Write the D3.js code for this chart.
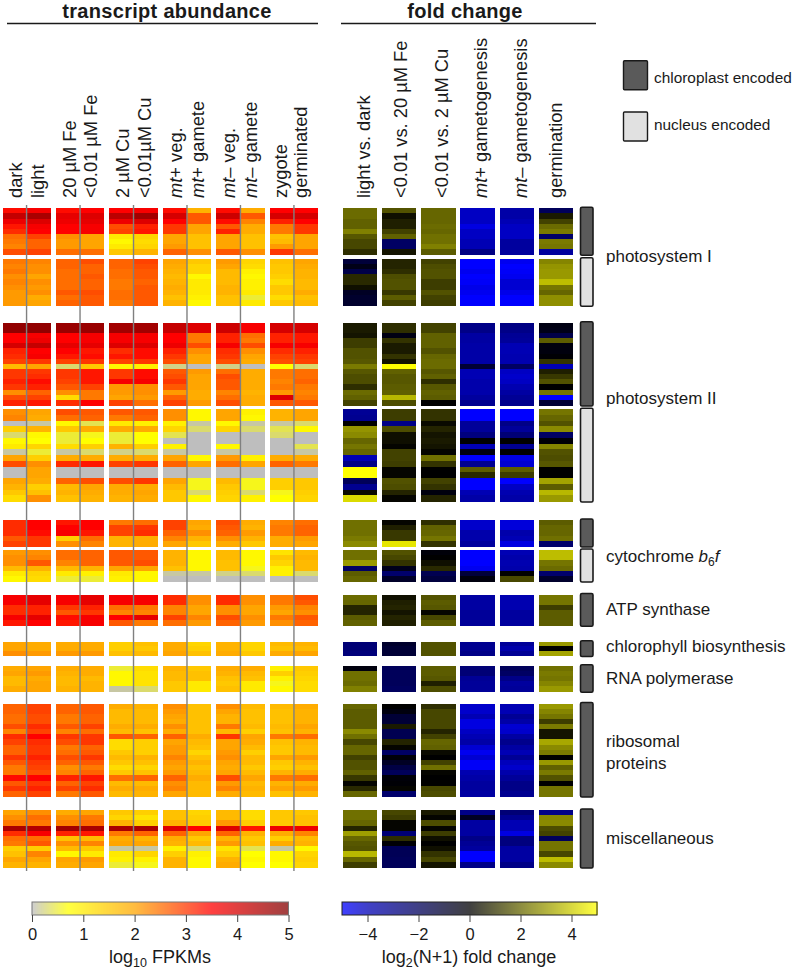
<!DOCTYPE html>
<html>
<head>
<meta charset="utf-8">
<script src="https://cdn.jsdelivr.net/npm/d3@7"></script>
<style>
body { margin: 0; background: #fff; }
text { font-family: "Liberation Sans", Arial, sans-serif; fill: #1a1a1a; }
</style>
</head>
<body>
<div id="chart"></div>
<script>
// column names
var abundCols = ['dark','light','20 µM Fe','<0.01 µM Fe','2 µM Cu','<0.01µM Cu','mt+ veg.','mt+ gamete','mt– veg.','mt– gamete','zygote','germinated'];
var foldCols = ['light vs. dark','<0.01 vs. 20 µM Fe','<0.01 vs. 2 µM Cu','mt+ gametogenesis','mt– gametogenesis','germination'];

// every block below is one list per column, top row first
// log10 FPKM, 0 = not detected (grey)
var abundPsiICp = [
 [3.4,4.2,3.7,3.3,3.1,2.5,2.4,2.3,2.8],[3.6,4.5,3.9,3.6,3.5,2.9,2.6,2.6,2.9],
 [3.4,3.8,3.7,3.5,3.5,2.2,2.1,2.1,2.5],[3.5,3.9,3.8,3.6,3.6,2.0,2.0,2.0,2.5],
 [3.5,4.3,3.7,2.8,2.9,1.0,0.8,1.0,1.5],[3.6,4.6,3.9,3.2,3.3,1.3,1.2,1.3,1.8],
 [3.4,4.0,3.5,3.0,3.0,2.0,2.0,2.1,2.6],[1.8,2.7,2.7,2.0,2.0,1.6,1.6,1.6,2.2],
 [3.4,4.1,3.4,2.7,3.2,2.0,2.0,2.0,2.7],[1.9,2.7,2.3,1.9,1.9,1.6,1.6,1.6,2.2],
 [3.5,4.0,3.2,2.4,2.4,1.6,1.7,2.1,3.0],[3.5,4.0,3.5,3.0,3.0,2.0,2.0,2.0,2.5]];
var abundPsiINuc = [
 [2.4,2.3,2.4,2.2,2.3,2.2,2.1,2.1,2.1],[2.3,2.2,2.2,2.0,2.2,2.1,2.2,1.9,2.0],
 [2.6,2.6,2.5,2.5,2.5,2.5,2.7,2.5,2.6],[2.8,2.6,2.6,2.7,2.6,2.6,2.8,2.7,2.7],
 [2.6,2.6,2.5,2.5,2.4,2.4,2.5,2.5,2.4],[2.9,2.8,2.7,2.7,2.6,2.7,2.7,2.7,2.7],
 [2.0,1.9,1.8,1.7,1.8,1.9,1.8,1.6,1.8],[1.5,1.3,1.3,0.8,1.0,1.0,1.0,0.9,0.8],
 [2.1,2.0,1.7,1.7,1.7,1.8,1.8,1.6,1.6],[1.3,1.2,0.9,0.8,0.9,0.9,1.0,0.5,1.0],
 [1.6,1.5,1.5,1.4,1.2,1.5,1.5,1.2,1.5],[2.0,1.9,1.8,1.8,1.7,1.7,1.9,1.6,1.7]];
var abundPsiIICp = [
 [4.8,4.8,3.5,3.5,4.0,3.2,3.1,2.9,1.7,3.0,3.0,3.2,3.0,2.2,2.8,3.2],
 [4.8,4.8,3.6,3.7,4.2,3.5,3.6,3.0,2.0,3.0,3.1,3.4,3.2,2.6,2.9,3.3],
 [4.7,4.7,3.5,3.5,3.8,3.5,3.3,2.9,0.3,3.0,3.0,2.9,2.7,2.2,1.2,3.1],
 [4.7,4.7,3.6,3.6,3.8,3.3,3.4,3.0,1.5,3.3,3.3,3.3,2.9,2.4,2.4,3.5],
 [4.6,4.6,3.6,3.6,3.9,3.1,3.3,2.9,0.8,3.0,3.0,3.6,2.1,2.1,2.0,2.9],
 [4.6,4.6,3.6,3.6,3.9,3.4,3.4,3.0,0.9,3.4,3.4,3.6,2.2,2.2,2.1,2.5],
 [4.2,4.2,3.5,3.5,3.7,3.2,3.0,2.8,0.2,2.7,2.8,3.0,2.7,2.1,2.6,2.9],
 [3.9,3.9,2.4,2.4,2.8,2.2,2.0,2.0,0.0,2.1,2.0,2.0,2.0,1.9,1.9,2.1],
 [4.1,4.1,3.2,3.2,3.6,3.1,3.0,2.8,0.2,2.5,2.8,2.7,2.7,2.3,2.5,2.8],
 [3.6,3.6,2.5,2.4,2.8,2.2,2.0,1.9,0.0,1.9,1.9,1.9,1.9,1.8,1.9,1.9],
 [4.0,4.0,3.2,3.2,3.6,3.1,2.9,2.8,0.7,2.4,2.4,2.3,2.4,2.1,3.9,2.7],
 [4.0,4.0,3.3,3.3,3.6,3.2,3.0,2.9,0.3,2.5,2.5,2.6,2.4,2.3,2.4,2.7]];
var abundPsiIINuc = [
 [2.2,2.3,0.0,1.4,0.3,0.8,1.0,0.1,2.0,2.8,0.0,0.0,2.0,1.8,1.5,1.2],
 [2.0,1.9,0.1,1.8,0.8,0.7,1.3,0.5,1.4,2.2,2.0,2.0,1.9,1.4,1.6,2.2],
 [2.8,2.5,0.8,1.5,0.5,0.5,1.2,0.1,1.9,3.1,0.0,0.0,2.6,1.7,1.8,1.6],
 [2.7,2.6,0.4,1.9,0.6,0.7,1.4,0.3,1.9,3.3,0.0,0.0,2.8,2.0,1.9,1.8],
 [2.7,2.4,1.0,1.9,0.5,0.5,1.8,0.2,1.9,2.9,0.0,0.0,2.8,1.9,1.9,1.8],
 [2.7,2.6,0.9,1.9,0.7,0.7,1.4,0.3,1.9,3.0,0.0,0.0,3.0,1.9,2.0,1.9],
 [2.2,2.2,0.9,1.3,0.4,0.0,0.9,0.1,2.0,2.6,0.0,0.0,2.0,1.7,1.5,1.5],
 [0.8,0.8,0.1,0.3,0.0,0.0,0.0,0.0,0.8,2.0,0.0,0.0,0.6,0.6,0.3,0.8],
 [2.0,2.0,0.8,1.3,0.0,0.0,0.8,0.1,2.1,2.5,0.0,0.0,1.7,1.5,1.4,1.3],
 [0.9,0.8,0.1,0.3,0.0,0.0,0.0,0.0,0.9,2.0,0.0,0.0,0.6,0.6,0.3,0.9],
 [1.8,1.8,0.1,0.4,0.3,0.0,0.0,0.0,1.9,2.6,0.0,0.0,1.4,1.4,0.6,0.7],
 [2.0,2.0,0.3,0.8,0.0,0.0,0.4,0.1,1.9,2.4,0.0,0.0,1.5,1.5,1.4,1.3]];
var abundCytCp = [
 [3.1,3.1,3.1,2.7,2.9],[3.5,3.5,3.4,3.0,3.0],[3.3,3.5,3.6,1.4,2.2],[3.5,3.5,3.3,2.5,2.3],
 [2.4,2.9,2.9,1.8,1.8],[2.5,3.0,3.1,1.9,1.9],[2.9,2.9,2.6,2.3,2.0],[2.0,1.9,2.2,1.8,1.5],
 [2.8,2.7,2.6,2.2,1.9],[1.9,1.8,2.1,1.8,1.5],[2.3,2.4,2.4,1.9,1.9],[2.5,2.6,2.6,2.1,2.0]];
var abundCytNuc = [
 [2.1,2.2,2.2,1.7,1.0,0.8],[2.2,2.3,2.7,1.8,1.3,1.2],[2.5,2.5,2.3,1.7,1.0,0.5],[2.6,2.6,2.6,1.8,0.9,0.5],
 [2.7,2.7,2.7,2.0,1.0,0.9],[2.7,2.7,2.8,2.0,0.8,0.8],[1.8,1.8,1.8,1.6,0.1,0.0],[0.8,0.8,0.8,0.8,0.1,0.0],
 [1.7,1.7,1.6,1.6,0.2,0.0],[0.8,0.8,0.8,0.6,0.3,0.0],[1.1,1.5,1.3,0.9,0.9,0.0],[1.7,1.8,1.7,1.7,0.3,0.0]];
var abundAtp = [
 [3.6,3.6,3.1,3.1,3.6,3.3],[3.8,3.8,3.2,3.2,3.8,3.5],[3.6,3.6,3.0,2.7,3.4,3.3],[3.8,3.8,3.2,3.0,3.6,3.6],
 [3.6,3.6,2.5,2.3,3.5,2.7],[3.6,3.6,2.4,2.3,3.8,2.4],[3.1,3.1,2.3,2.3,2.9,2.5],[2.2,2.2,2.0,2.0,2.3,2.1],
 [3.1,3.1,2.2,2.2,2.8,2.6],[2.2,2.2,2.0,2.0,2.2,2.1],[2.4,2.4,2.1,2.0,2.4,2.2],[2.8,2.7,2.3,2.2,2.7,2.6]];
var abundChl = [
 [2.0,2.0,2.2],[1.9,1.9,2.1],[1.9,1.9,2.1],[1.9,1.9,2.1],[1.4,1.4,1.6],[1.6,1.5,1.7],
 [1.9,1.9,2.0],[1.3,1.4,1.6],[1.8,1.8,1.9],[1.3,1.3,1.5],[1.7,1.6,1.9],[1.8,1.7,2.0]];
var abundRna = [
 [1.9,2.0,1.7,1.7,1.9],[2.0,2.1,1.9,2.0,2.0],[1.9,1.8,1.7,1.7,1.8],[1.9,1.9,1.7,1.8,1.8],
 [0.5,0.8,0.8,0.8,0.1],[1.2,1.1,1.1,1.1,0.3],[1.8,1.7,1.7,1.5,1.5],[1.5,1.6,1.6,1.0,1.0],
 [1.9,1.8,1.6,1.5,1.6],[1.9,1.7,1.6,1.0,1.0],[0.9,1.4,0.9,0.6,0.8],[1.5,1.4,1.3,1.2,1.2]];
var abundRibo = [
 [2.6,2.6,2.5,2.5,2.8,2.3,3.1,2.9,2.6,2.6,3.0,2.7,2.4,2.4,3.4,2.7,3.0,2.6],
 [2.9,2.9,2.8,2.8,3.1,2.9,3.5,3.1,3.0,3.0,3.2,3.0,2.9,2.8,3.5,3.0,3.2,2.9],
 [2.6,2.6,2.4,2.4,2.7,2.3,3.0,2.8,2.4,2.5,2.8,2.6,2.2,2.3,3.2,2.6,2.9,2.4],
 [2.7,2.7,2.6,2.6,2.9,2.5,3.0,3.0,2.6,2.7,3.0,2.7,2.4,2.6,3.3,2.9,3.1,2.7],
 [1.9,1.7,1.7,1.7,1.9,1.7,2.7,1.2,1.2,1.5,1.7,1.5,1.2,1.5,2.5,1.7,1.9,1.7],
 [1.8,1.7,1.7,1.7,1.9,1.6,2.6,1.4,1.4,1.4,1.8,1.6,1.3,1.6,2.6,1.7,1.9,1.8],
 [2.2,2.1,2.0,1.9,2.2,1.9,2.6,2.0,2.1,2.1,2.3,2.1,2.0,2.1,2.6,2.2,2.3,2.0],
 [1.6,1.6,1.6,1.6,1.6,1.6,1.9,1.7,1.6,1.3,1.6,1.8,1.6,1.7,1.9,1.7,1.7,1.7],
 [2.2,2.0,1.8,1.8,2.4,1.7,3.0,2.0,2.0,2.1,2.2,2.0,1.9,2.0,2.8,2.1,2.3,1.9],
 [1.7,1.6,1.6,1.6,1.7,1.4,2.0,1.9,1.7,1.4,1.7,1.7,1.5,1.7,2.0,1.7,1.8,1.7],
 [1.7,1.6,1.6,1.6,1.7,1.6,2.4,1.6,1.5,1.5,2.0,1.5,1.4,1.8,2.4,1.8,2.0,1.6],
 [1.9,1.8,1.8,1.8,2.0,1.8,2.5,1.8,1.7,1.7,2.1,1.8,1.6,1.9,2.5,1.9,2.1,1.8]];
var abundMisc = [
 [2.0,2.2,2.4,4.5,3.1,2.5,2.4,1.4,1.6,2.0,1.8],[2.2,2.5,2.4,4.4,3.6,2.5,2.7,1.4,2.3,2.0,1.8],
 [1.9,2.2,2.3,4.6,3.2,1.6,2.2,1.7,0.8,2.0,1.9],[2.0,2.4,2.5,4.5,3.3,1.7,2.3,1.5,1.0,2.1,2.0],
 [1.5,1.3,1.8,4.5,2.4,1.9,2.0,0.1,1.0,0.9,0.5],[1.4,1.1,1.4,4.5,2.6,1.8,2.0,0.1,1.3,0.9,0.6],
 [1.6,1.6,1.8,3.9,2.6,1.9,1.8,0.9,1.4,1.8,1.8],[1.3,1.4,1.5,3.5,2.0,1.5,1.7,0.3,0.9,0.8,0.8],
 [1.7,1.7,2.1,3.9,2.6,1.8,2.1,1.1,1.4,1.8,1.9],[1.2,1.2,1.4,3.3,1.8,1.5,1.6,0.4,0.7,0.8,0.7],
 [1.5,1.5,1.5,3.7,1.9,1.4,1.9,0.1,0.8,0.8,0.7],[1.5,1.6,1.6,3.7,2.3,1.7,1.8,0.8,1.3,1.4,1.3]];

// log2(N+1) fold change
var foldPsiICp = [
 [2.1,2.1,1.9,1.9,2.5,1.7,1.4,1.4,0.9],[1.6,0.3,0.6,0.6,1.3,1.9,-2.2,-2.2,0.4],
 [2.0,2.0,2.0,2.1,2.0,2.2,2.2,2.5,1.8],[-4.2,-4.2,-4.2,-4.6,-4.2,-4.2,-4.0,-4.0,-2.9],
 [-3.7,-3.7,-4.0,-4.2,-4.2,-4.2,-3.5,-3.5,-3.5],[-2.0,0.5,1.3,2.1,2.4,-2.3,2.4,2.3,-3.5]];
var foldPsiINuc = [
 [-1.3,-0.5,-1.6,0.8,0.8,0.3,-0.8,-1.0,-1.0],[0.7,0.7,0.9,1.5,1.6,1.6,1.1,1.8,1.3],
 [1.3,1.5,1.6,1.6,1.2,1.2,1.6,1.3,1.2],[-5,-5,-4.8,-5,-4.9,-4.7,-4.8,-5,-5],
 [-4.8,-5,-4.9,-4.8,-4.4,-4.4,-4.7,-5,-5],[2.6,2.9,3.0,3.0,3.7,2.3,2.0,2.8,2.8]];
var foldPsiIICp = [
 [0.5,0.5,0.4,1.2,1.2,1.6,1.6,1.7,2.4,1.7,1.5,1.5,0.9,2.1,1.9,1.3],
 [0.9,0.9,-0.4,1.0,0.5,0.5,1.0,0.4,5.0,1.9,1.7,1.7,1.8,1.9,3.6,1.5],
 [1.3,1.3,1.9,1.9,1.9,1.6,2.0,2.1,2.1,1.7,1.9,0.9,1.7,1.9,1.8,0.0],
 [-3.0,-3.0,-3.6,-3.6,-3.7,-3.7,-3.7,-3.7,-1.2,-4.0,-4.0,-3.8,-3.8,-3.8,-3.5,-3.2],
 [-2.9,-3.0,-3.3,-3.4,-4.0,-4.0,-3.9,-3.9,-2.2,-4.2,-4.3,-4.2,-3.9,-3.6,-3.3,-3.1],
 [-0.4,-0.5,-1.6,1.8,-0.3,-0.3,-0.1,1.0,-4.0,0.6,1.1,1.6,0.0,2.3,-5,-1.2]];
var foldPsiIINuc = [
 [-3.3,-3.2,0.0,2.9,2.7,2.0,2.3,2.0,-4.0,-3.0,5,5,-2.0,-3.2,0.2,4.3],
 [1.2,1.2,-3.0,1.5,0.3,0.3,0.1,1.3,1.3,1.2,0.1,0.1,1.6,1.5,0.7,0.1],
 [1.0,1.0,0.2,0.7,0.4,0.5,0.4,0.1,2.2,1.0,0.0,0.0,1.3,1.0,-0.3,0.7],
 [-5,-5,-3.4,-3.4,-2.8,0.0,-4.0,-0.4,-5,-3.2,1.8,0.8,-5,-5,-4.0,-3.7],
 [-5,-5,-3.0,-3.4,-2.6,0.0,-3.2,0.0,-4.6,-4.4,1.8,1.2,-5,-4.2,-3.9,-3.7],
 [2.3,2.0,1.6,2.7,-2.2,-0.1,2.6,1.6,1.5,1.7,0.0,0.0,3.2,1.8,3.6,3.0]];
var foldCytCp = [
 [2.2,2.2,2.2,2.4,2.7],[0.1,0.6,1.1,1.1,4.5],[0.9,1.9,2.0,2.3,1.0],
 [-4.3,-4.3,-3.8,-3.8,-3.5],[-4.5,-4.5,-3.8,-4.0,-4.6],[1.8,2.0,2.0,2.2,-2.4]];
var foldCytNuc = [
 [2.2,2.2,3.0,-2.2,1.8,2.0],[1.6,1.4,1.0,-0.6,-2.4,-0.9],[-0.2,0.0,0.3,0.8,-1.8,-1.4],
 [-5,-5,-5,-4.8,-1.3,-0.3],[-4.0,-3.8,-3.9,-3.8,0.0,1.4],[3.7,3.7,2.3,2.1,-2.4,-1.0]];
var foldAtp = [
 [2.1,2.0,0.7,0.7,1.8,1.9],[0.3,0.6,0.7,0.4,0.7,0.6],[1.6,1.8,1.7,0.1,1.4,1.8],
 [-3.6,-3.6,-3.6,-3.4,-3.4,-3.4],[-3.9,-3.9,-3.9,-3.5,-3.5,-3.5],[2.3,2.3,1.2,1.8,1.8,1.8]];
var foldChl = [[-2.6,-2.6,-2.7],[-1.0,-1.2,-1.2],[1.6,1.6,1.6],[-3.2,-3.2,-3.0],[-3.4,-3.8,-3.3],[3.0,0.0,3.2]];
var foldRna = [
 [-0.3,2.2,2.2,2.1,2.5],[-2.0,-2.0,-2.0,-2.0,-2.1],[1.8,1.8,1.7,0.6,1.5],
 [-2.6,-2.6,-3.3,-3.4,-3.4],[-2.0,-2.2,-3.0,-3.5,-3.4],[2.2,2.4,2.3,2.6,3.0]];
var foldRibo = [
 [2.0,1.8,1.8,1.8,1.8,2.7,2.2,1.4,2.0,2.0,1.3,1.6,1.6,1.9,1.1,0.1,0.8,2.0],
 [0.0,-0.3,-1.2,-1.2,0.5,-1.8,-1.8,0.7,0.1,-2.2,-0.2,-0.8,-1.5,-2.0,-0.2,-0.1,0.1,-2.4],
 [0.9,1.4,1.4,1.4,1.4,0.7,1.3,2.0,1.9,0.2,0.0,1.3,2.2,0.1,0.0,0.0,1.4,1.5],
 [-4.3,-4.3,-4.0,-4.6,-4.6,-4.2,-4.0,-3.7,-4.4,-4.8,-4.4,-4.9,-4.9,-3.9,-3.7,-3.5,-3.5,-3.6],
 [-4.0,-4.0,-3.3,-3.7,-4.4,-4.3,-3.6,-3.1,-3.6,-4.0,-3.3,-4.1,-4.3,-3.8,-3.4,-3.0,-3.0,-3.2],
 [3.0,2.6,2.3,1.2,2.4,0.4,0.4,3.3,2.7,2.4,0.0,3.0,1.9,2.4,1.6,0.0,2.3,2.3]];
var foldMisc = [
 [2.2,2.2,2.0,0.7,3.1,2.0,1.7,1.6,3.6,2.0,1.2],
 [1.4,1.2,0.1,0.1,-2.6,0.9,-0.1,-1.9,-1.9,-2.0,-2.0],
 [0.5,0.1,1.5,0.1,1.2,0.3,0.0,0.3,1.0,1.4,0.4],
 [-3.0,-0.8,-3.6,-3.6,-3.6,-3.0,-3.3,-3.5,-5,-5,-3.0],
 [-2.6,-3.2,-4.0,-4.0,-4.6,-2.8,-2.8,-3.6,-3.6,-3.6,-3.0],
 [-3.0,2.6,2.7,1.5,1.3,-2.0,2.3,2.3,1.4,3.7,2.7]];

// colour bar ticks
var abundTicks = [0,1,2,3,4,5];
var foldTicks = [-4,-2,0,2,4];

var blocks = [
 {abund:abundPsiICp, fold:foldPsiICp, top:208.3, bottom:254.3, nuc:false},
 {abund:abundPsiINuc, fold:foldPsiINuc, top:258.8, bottom:305.3, nuc:true},
 {abund:abundPsiIICp, fold:foldPsiIICp, top:322.7, bottom:405, nuc:false},
 {abund:abundPsiIINuc, fold:foldPsiIINuc, top:409.3, bottom:501, nuc:true},
 {abund:abundCytCp, fold:foldCytCp, top:520, bottom:546, nuc:false},
 {abund:abundCytNuc, fold:foldCytNuc, top:550, bottom:581, nuc:true},
 {abund:abundAtp, fold:foldAtp, top:594.5, bottom:625.3, nuc:false},
 {abund:abundChl, fold:foldChl, top:641.8, bottom:655.5, nuc:false},
 {abund:abundRna, fold:foldRna, top:665.7, bottom:691.3, nuc:false},
 {abund:abundRibo, fold:foldRibo, top:703.5, bottom:796, nuc:false},
 {abund:abundMisc, fold:foldMisc, top:810, bottom:867, nuc:false}
];

var svg = d3.select('#chart').append('svg').attr('width',800).attr('height',971).style('display','block');

var abundColor = d3.scaleLinear().domain([0,0.7,2,3.5,5]).range(['#bebebe','#ffff00','#ffa500','#ff0000','#800000']).clamp(true);
var foldColor = d3.scaleLinear().domain([-5,-4,0,5]).range(['#0000ff','#0000b4','#000000','#ffff00']).clamp(true);

// abundance columns come in pairs, the two halves of a pair touch
var pairs = d3.range(6);
var pairX = d3.scaleBand().domain(pairs).range([2.5,318]).paddingInner(0.1);
var halfX = d3.scaleBand().domain([0,1]).range([0,pairX.bandwidth()]);
var foldX = d3.scaleBand().domain(d3.range(6)).range([342.7,573.3]).paddingInner(0.12);

function abundLeft(c){ return pairX(Math.floor(c/2)) + halfX(c%2); }

var heat = svg.append('g').attr('class','heat').attr('shape-rendering','crispEdges').style('filter','blur(0.5px)');

blocks.forEach(function(b){
	var rows = d3.range(b.abund[0].length);
	var y = d3.scaleBand().domain(rows).range([b.top,b.bottom]);

	b.abund.forEach(function(col,c){
		heat.append('g').selectAll('rect').data(col).enter().append('rect')
			.attr('x',abundLeft(c))
			.attr('y',function(d,i){return y(i);})
			.attr('width',halfX.bandwidth())
			.attr('height',y.bandwidth()+0.5)
			.attr('fill',function(d){return abundColor(d);});
	});
	b.fold.forEach(function(col,c){
		heat.append('g').selectAll('rect').data(col).enter().append('rect')
			.attr('x',foldX(c))
			.attr('y',function(d,i){return y(i);})
			.attr('width',foldX.bandwidth())
			.attr('height',y.bandwidth()+0.5)
			.attr('fill',function(d){return foldColor(d);});
	});

	// encoded-by bar on the right
	svg.append('rect')
		.attr('x',580.5).attr('y',b.top-1)
		.attr('width',12.5).attr('height',b.bottom-b.top+2)
		.attr('rx',1.5)
		.attr('fill',b.nuc ? '#e1e1e1' : '#5a5a5a')
		.attr('stroke','#1a1a1a').attr('stroke-width',1.6);
});

// grey lines through each pair
svg.append('g').selectAll('line').data(pairs).enter().append('line')
	.attr('x1',function(p){return pairX(p)+halfX(1);})
	.attr('x2',function(p){return pairX(p)+halfX(1);})
	.attr('y1',205).attr('y2',871)
	.attr('stroke','#808080').attr('stroke-width',1.4);

// headers
function header(txt,cx,x1,x2){
	svg.append('text').attr('x',cx).attr('y',18.2).attr('text-anchor','middle')
		.style('font-size','20px').style('letter-spacing','0.3px').style('font-weight','bold').text(txt);
	svg.append('line').attr('x1',x1).attr('x2',x2).attr('y1',23.5).attr('y2',23.5)
		.attr('stroke','#1a1a1a').attr('stroke-width',1.6);
}
header('transcript abundance',167,7,318);
header('fold change',465,341,596);

// rotated column labels, mt is set in italics
var abundLabelX = [22,44,76,97,129,151,182,204,235,257,287,307];
var foldLabelX = [370,407,448,487,527,562];
function colLabel(txt,x){
	var t = svg.append('text').attr('transform','translate('+x+',198) rotate(-90)').style('font-size','18.3px');
	if(txt.indexOf('mt')===0){
		t.append('tspan').style('font-style','italic').text('mt');
		t.append('tspan').text(txt.slice(2));
	} else {
		t.text(txt);
	}
}
abundCols.forEach(function(n,c){ colLabel(n,abundLabelX[c]); });
foldCols.forEach(function(n,c){ colLabel(n,foldLabelX[c]); });

// legend
[['chloroplast encoded','#5a5a5a',60.8,78],['nucleus encoded','#e1e1e1',112,125]].forEach(function(l){
	svg.append('rect').attr('x',623.5).attr('y',l[2]).attr('width',24).attr('height',29)
		.attr('rx',1).attr('fill',l[1]).attr('stroke','#1a1a1a').attr('stroke-width',1.4);
	svg.append('text').attr('x',654).attr('y',l[3]+5).style('font-size','15.4px').text(l[0]);
});

// group names
function groupLabel(y){ return svg.append('text').attr('x',606).attr('y',y).style('font-size','17px'); }
groupLabel(262).text('photosystem I');
groupLabel(404).text('photosystem II');
var cyt = groupLabel(562);
cyt.append('tspan').text('cytochrome ');
cyt.append('tspan').style('font-style','italic').text('b');
cyt.append('tspan').attr('dy',4).style('font-size','12px').text('6');
cyt.append('tspan').attr('dy',-4).style('font-style','italic').text('f');
groupLabel(615).text('ATP synthase');
groupLabel(652).text('chlorophyll biosynthesis');
groupLabel(684).text('RNA polymerase');
groupLabel(747).text('ribosomal');
groupLabel(769).text('proteins');
groupLabel(844).text('miscellaneous');

// colour bars, the reference draws them a quarter washed out
function colorBar(scale,color,ticks,x0,x1,stroke){
	var g = svg.append('g');
	var lo = scale.domain()[0], hi = scale.domain()[1];
	var steps = d3.range(lo,hi,(hi-lo)/256);
	var w = (x1-x0)/256;
	g.append('g').attr('shape-rendering','crispEdges').selectAll('rect').data(steps).enter().append('rect')
		.attr('x',function(d){return scale(d);}).attr('y',902)
		.attr('width',w+0.6).attr('height',13)
		.attr('fill',function(d){return d3.interpolateRgb(color(d),'#fff')(0.25);});
	g.append('rect').attr('x',x0).attr('y',902).attr('width',x1-x0).attr('height',13)
		.attr('fill','none').attr('stroke',stroke).attr('stroke-width',1);
	var axis = g.append('g').attr('transform','translate(0,915)')
		.call(d3.axisBottom(scale).tickValues(ticks).tickSize(7).tickPadding(6).tickSizeOuter(0).tickFormat(d3.format('d')));
	axis.select('.domain').remove();
	axis.selectAll('line').attr('stroke','#444');
	axis.selectAll('text').style('font-size','16.5px').attr('fill','#1a1a1a');
}
colorBar(d3.scaleLinear().domain([0,5]).range([32,288.5]),abundColor,abundTicks,32,288.5,'#777');
colorBar(d3.scaleLinear().domain([-5,5]).range([342,597]),foldColor,foldTicks,342,597,'#222');

var t1 = svg.append('text').attr('x',160).attr('y',963).attr('text-anchor','middle').style('font-size','18px');
t1.append('tspan').text('log');
t1.append('tspan').attr('dy',4).style('font-size','12.5px').text('10');
t1.append('tspan').attr('dy',-4).text(' FPKMs');
var t2 = svg.append('text').attr('x',469).attr('y',963).attr('text-anchor','middle').style('font-size','18px');
t2.append('tspan').text('log');
t2.append('tspan').attr('dy',4).style('font-size','12.5px').text('2');
t2.append('tspan').attr('dy',-4).text('(N+1) fold change');
</script>
</body>
</html>
